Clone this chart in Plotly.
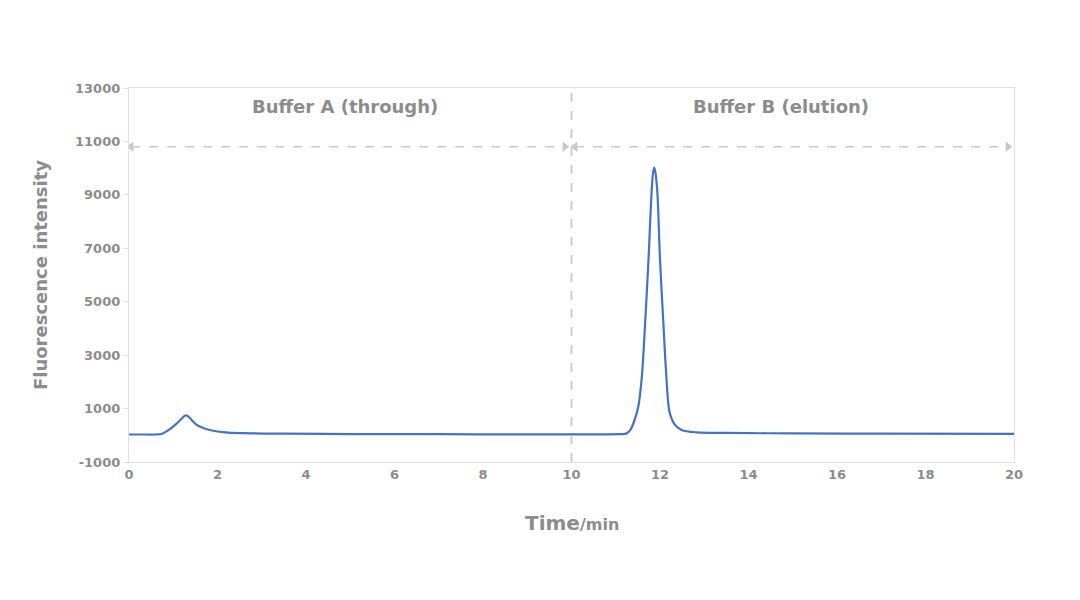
import plotly.graph_objects as go

# chromatogram
time_min = [0, 0.3, 0.6, 0.75, 0.9, 1.05, 1.2, 1.26, 1.29, 1.33, 1.42, 1.52, 1.65, 1.85, 2.17, 2.6, 3.5, 5, 7, 9, 10,
            10.8, 11.1, 11.2, 11.25, 11.33, 11.40, 11.51, 11.59, 11.66, 11.74, 11.81, 11.845, 11.87, 11.895,
            11.94, 12.0, 12.08, 12.14, 12.22, 12.34, 12.49, 12.83, 13.5, 15, 17, 20]
intensity = [30, 30, 30, 60, 200, 400, 640, 730, 750, 720, 560, 400, 290, 190, 110, 80, 60, 45, 40, 35, 35,
             35, 40, 50, 77, 200, 450, 1075, 2200, 4080, 6580, 9100, 9850, 10020, 9850,
             9100, 6580, 4080, 2300, 840, 390, 200, 110, 90, 70, 60, 55]

y_ticks = [-1000, 1000, 3000, 5000, 7000, 9000, 11000, 13000]
x_ticks = [0, 2, 4, 6, 8, 10, 12, 14, 16, 18, 20]

buffer_labels = ["Buffer A (through)", "Buffer B (elution)"]
label_x = [4.88, 14.73]
label_y = 12300
arrow_y = 10800
arrow_spans = [(0.05, 9.85), (10.08, 19.86)]
switch_time = 10

grey = "#8c8c8c"
light = "#c8c8c8"
font_family = "'DejaVu Sans', sans-serif"

fig = go.Figure()

fig.add_trace(go.Scatter(x=time_min, y=intensity, mode="lines",
                         line=dict(color="#4472C4", width=2.2, shape="spline", smoothing=0.9),
                         hoverinfo="skip", showlegend=False))

# dashed double arrows
for x0, x1 in arrow_spans:
    fig.add_trace(go.Scatter(x=[x0, x1], y=[arrow_y, arrow_y], mode="lines",
                             line=dict(color=light, width=1.5, dash="dash"),
                             hoverinfo="skip", showlegend=False))
    fig.add_trace(go.Scatter(x=[x0, x1], y=[arrow_y, arrow_y], mode="markers",
                             marker=dict(symbol=["triangle-left", "triangle-right"], size=9, color=light),
                             hoverinfo="skip", showlegend=False))

fig.add_shape(type="line", x0=switch_time, x1=switch_time, y0=-1000, y1=13000,
              xref="x", yref="y", line=dict(color=light, width=1.8, dash="dash"))

for txt, lx in zip(buffer_labels, label_x):
    fig.add_annotation(x=lx, y=label_y, text=txt, showarrow=False,
                       font=dict(size=18, color=grey, family=font_family, weight="bold"))

fig.add_annotation(x=0.5, y=-0.2, xref="paper", yref="paper", showarrow=False,
                   text="<span style='font-size:20px'>Time</span>/min",
                   font=dict(size=16, color=grey, family=font_family, weight="bold"))

fig.update_layout(
    width=1080, height=600,
    margin=dict(l=121, r=74, t=80, b=146),
    paper_bgcolor="white", plot_bgcolor="white",
    font=dict(family=font_family, color=grey),
    xaxis=dict(range=[0, 20], tickvals=x_ticks, showgrid=False, zeroline=False,
               showline=True, mirror=True, linecolor="#e0e0e0", linewidth=1.3,
               ticks="", tickfont=dict(size=13, color=grey, weight="bold")),
    yaxis=dict(range=[-1000, 13000], tickvals=y_ticks, ticktext=[str(v) for v in y_ticks],
               showgrid=False, zeroline=False,
               showline=True, mirror=True, linecolor="#e0e0e0", linewidth=1.3,
               ticks="outside", ticklen=5, tickcolor="#e0e0e0",
               tickfont=dict(size=13, color=grey, weight="bold"),
               title=dict(text="Fluorescence intensity", standoff=22,
                          font=dict(size=18, color=grey, family=font_family, weight="bold"))),
)

fig.write_html("out.html")
